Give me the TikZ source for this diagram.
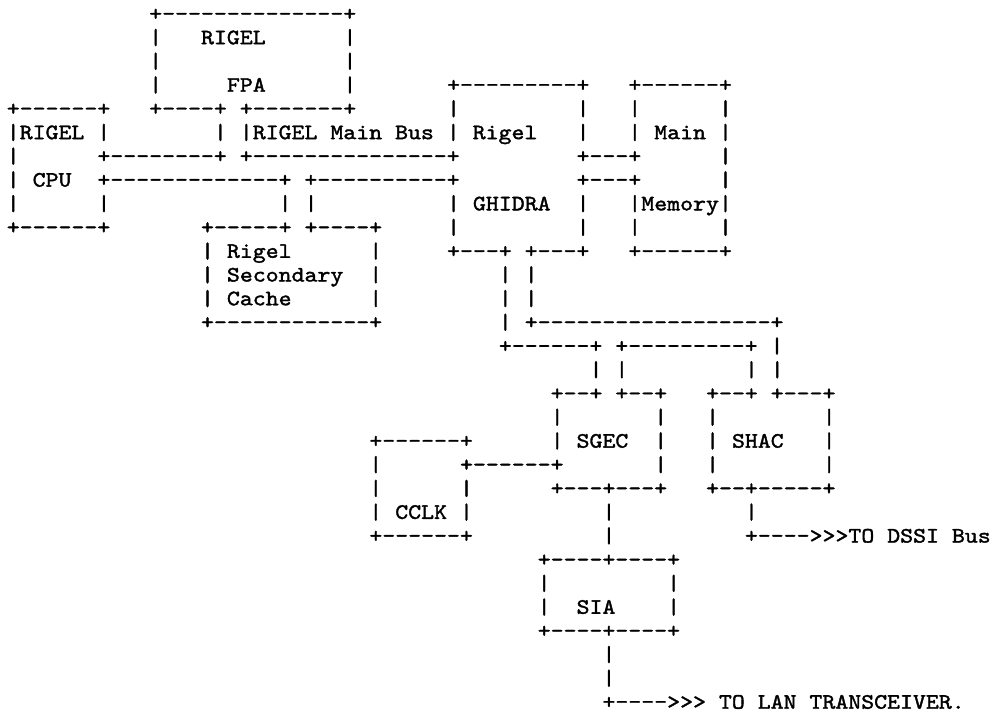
\documentclass[tikz,border=0pt]{standalone}
\usepackage{fontspec}
\newfontfamily\asciiface{lmmono10-regular.otf}[FakeBold=1.6, FakeStretch=1.12]
\newcommand\asciifont{\asciiface\fontsize{22}{24}\selectfont\frenchspacing}
\tikzset{ascii/.style={anchor=base west, inner sep=0pt, outer sep=0pt, font=\asciifont, text=black}}
\newcommand\seg[3]{\node[ascii] (s#2x#1) at ({6.8+12.95*#1},{-(20.5+23.73*#2)}) {#3};}
\begin{document}
\begin{tikzpicture}[x=1pt,y=1pt]
\fill[white] (0,0) rectangle (993,-713);
\useasboundingbox (0,0) rectangle (993,-713);
% row 0-3 : FPA
\seg{11}{0}{+--------------+}
\seg{11}{1}{|}\seg{15}{1}{RIGEL}\seg{26}{1}{|}
\seg{11}{2}{|}\seg{26}{2}{|}
\seg{11}{3}{|}\seg{17}{3}{FPA}\seg{26}{3}{|}\seg{34}{3}{+---------+}\seg{48}{3}{+------+}
% row 4-9 : CPU, bus, GHIDRA, memory
\seg{0}{4}{+------+}\seg{11}{4}{+----+ +-------+}\seg{34}{4}{|}\seg{44}{4}{|}\seg{48}{4}{|}\seg{55}{4}{|}
\seg{0}{5}{|RIGEL |}\seg{16}{5}{| |RIGEL Main Bus | Rigel}\seg{44}{5}{|}\seg{48}{5}{| Main |}
\seg{0}{6}{|}\seg{7}{6}{+--------+ +---------------+}\seg{44}{6}{+---+}\seg{55}{6}{|}
\seg{0}{7}{| CPU}\seg{7}{7}{+-------------+ +----------+}\seg{44}{7}{+---+}\seg{55}{7}{|}
\seg{0}{8}{|}\seg{7}{8}{|}\seg{21}{8}{| |}\seg{34}{8}{| GHIDRA}\seg{44}{8}{|}\seg{48}{8}{|Memory|}
\seg{0}{9}{+------+}\seg{15}{9}{+-----+ +----+}\seg{34}{9}{|}\seg{44}{9}{|}\seg{48}{9}{|}\seg{55}{9}{|}
% row 10-13 : cache
\seg{15}{10}{| Rigel}\seg{28}{10}{|}\seg{34}{10}{+---+ +---+}\seg{48}{10}{+------+}
\seg{15}{11}{| Secondary}\seg{28}{11}{|}\seg{38}{11}{| |}
\seg{15}{12}{| Cache}\seg{28}{12}{|}\seg{38}{12}{| |}
\seg{15}{13}{+------------+}\seg{38}{13}{| +------------------+}
% row 14-16
\seg{38}{14}{+------+ +---------+ |}
\seg{45}{15}{| |}\seg{57}{15}{| |}
\seg{42}{16}{+--+ +--+}\seg{54}{16}{+--+ +---+}
% row 17-22 : SGEC, SHAC, CCLK
\seg{42}{17}{|}\seg{50}{17}{|}\seg{54}{17}{|}\seg{63}{17}{|}
\seg{28}{18}{+------+}\seg{42}{18}{| SGEC}\seg{50}{18}{|}\seg{54}{18}{| SHAC}\seg{63}{18}{|}
\seg{28}{19}{|}\seg{35}{19}{+------+}\seg{50}{19}{|}\seg{54}{19}{|}\seg{63}{19}{|}
\seg{28}{20}{|}\seg{35}{20}{|}\seg{42}{20}{+---+---+}\seg{54}{20}{+--+-----+}
\seg{28}{21}{| CCLK |}\seg{46}{21}{|}\seg{57}{21}{|}
\seg{28}{22}{+------+}\seg{46}{22}{|}\seg{57}{22}{+---->>>TO DSSI Bus}
% row 23-29 : SIA
\seg{41}{23}{+----+----+}
\seg{41}{24}{|}\seg{51}{24}{|}
\seg{41}{25}{|}\seg{44}{25}{SIA}\seg{51}{25}{|}
\seg{41}{26}{+----+----+}
\seg{46}{27}{|}
\seg{46}{28}{|}
\seg{46}{29}{+---->>> TO LAN TRANSCEIVER.}
\end{tikzpicture}
\end{document}
